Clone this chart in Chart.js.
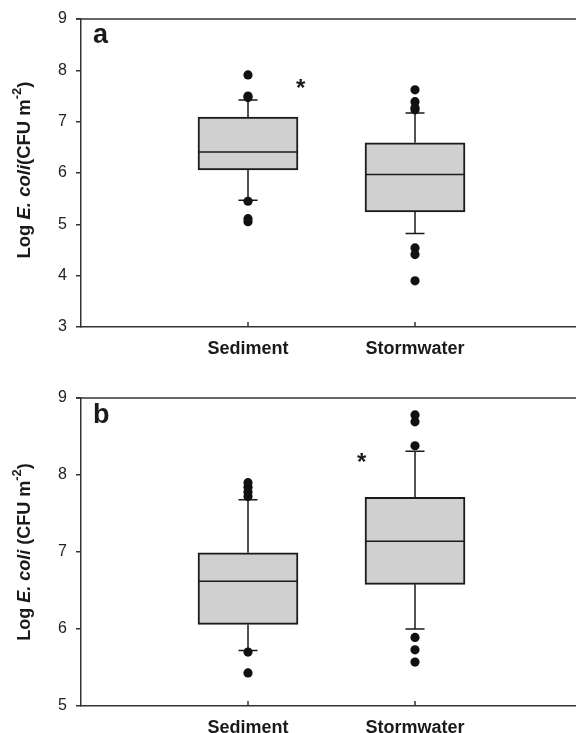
<!DOCTYPE html>
<html>
<head>
<meta charset="utf-8">
<script src="https://cdn.jsdelivr.net/npm/chart.js@4.4.1/dist/chart.umd.min.js"></script>
<style>
  body { margin: 0; background: #fff; }
  #wrap { position: relative; width: 576px; height: 733px; }
  canvas { position: absolute; left: 0; }
</style>
</head>
<body>
<div id="wrap">
  <canvas id="chartA" width="576" height="366" style="top:0"></canvas>
  <canvas id="chartB" width="576" height="367" style="top:366px"></canvas>
</div>
<script>
const categories = ['Sediment', 'Stormwater']

// panel a
const aQ1 = [6.06, 5.24]
const aMedian = [6.41, 5.97]
const aQ3 = [7.09, 6.59]
const aLow = [5.47, 4.82]
const aHigh = [7.42, 7.17]
const aOutliers = [
  [7.91, 7.50, 7.47, 5.45, 5.11, 5.05],
  [7.62, 7.39, 7.27, 7.23, 4.54, 4.41, 3.90]
]
const aTicks = [3, 4, 5, 6, 7, 8, 9]

// panel b
const bQ1 = [6.06, 6.58]
const bMedian = [6.62, 7.14]
const bQ3 = [6.99, 7.71]
const bLow = [5.72, 6.00]
const bHigh = [7.68, 8.31]
const bOutliers = [
  [7.90, 7.84, 7.78, 7.72, 5.70, 5.43],
  [8.78, 8.69, 8.38, 5.89, 5.73, 5.57]
]
const bTicks = [5, 6, 7, 8, 9]

const FONT = "'Liberation Sans', Arial, sans-serif"
const INK = '#1a1a1a'
const AXIS = '#333'

// whiskers, caps, medians, stars, panel letter, y title, inner x ticks
const boxParts = {
  id: 'boxParts',
  beforeDatasetsDraw(chart, args, opts) {
    const x = chart.scales.x, y = chart.scales.y, ctx = chart.ctx
    ctx.save()
    ctx.strokeStyle = INK
    ctx.lineWidth = 1.5
    categories.forEach((c, i) => {
      const px = x.getPixelForValue(i + 1)
      ctx.beginPath()
      ctx.moveTo(px, y.getPixelForValue(opts.q3[i]))
      ctx.lineTo(px, y.getPixelForValue(opts.high[i]))
      ctx.moveTo(px - 9.5, y.getPixelForValue(opts.high[i]))
      ctx.lineTo(px + 9.5, y.getPixelForValue(opts.high[i]))
      ctx.moveTo(px, y.getPixelForValue(opts.q1[i]))
      ctx.lineTo(px, y.getPixelForValue(opts.low[i]))
      ctx.moveTo(px - 9.5, y.getPixelForValue(opts.low[i]))
      ctx.lineTo(px + 9.5, y.getPixelForValue(opts.low[i]))
      ctx.stroke()
    })
    ctx.restore()
  },
  afterDatasetsDraw(chart, args, opts) {
    const x = chart.scales.x, y = chart.scales.y, ctx = chart.ctx
    const area = chart.chartArea
    ctx.save()
    ctx.strokeStyle = INK
    ctx.lineWidth = 1.5
    categories.forEach((c, i) => {
      const px = x.getPixelForValue(i + 1)
      const py = y.getPixelForValue(opts.median[i])
      ctx.beginPath()
      ctx.moveTo(px - 49, py)
      ctx.lineTo(px + 49, py)
      ctx.stroke()
      // little ticks inside the plot on x axis
      ctx.beginPath()
      ctx.strokeStyle = AXIS
      ctx.moveTo(px, area.bottom)
      ctx.lineTo(px, area.bottom - 5)
      ctx.stroke()
      ctx.strokeStyle = INK
    })
    // top frame line
    ctx.strokeStyle = AXIS
    ctx.lineWidth = 1.5
    ctx.beginPath()
    ctx.moveTo(area.left - 5, area.top)
    ctx.lineTo(area.right, area.top)
    ctx.stroke()

    // significance star
    ctx.fillStyle = INK
    ctx.font = 'bold 24px ' + FONT
    ctx.textAlign = 'center'
    ctx.textBaseline = 'middle'
    ctx.fillText('*', x.getPixelForValue(opts.star[0]), y.getPixelForValue(opts.star[1]) + 5)

    // panel letter
    ctx.font = 'bold 27px ' + FONT
    ctx.textAlign = 'left'
    ctx.textBaseline = 'alphabetic'
    ctx.fillText(opts.letter, area.left + 12, area.top + opts.letterDy)

    // y title with italic and superscript
    const fs = opts.titleSize
    const segs = [
      ['Log ', 'bold ' + fs + 'px ' + FONT, 0],
      ['E. coli', 'italic bold ' + fs + 'px ' + FONT, 0],
      [opts.gap + '(CFU m', 'bold ' + fs + 'px ' + FONT, 0],
      ['-2', 'bold ' + Math.round(fs * 0.7) + 'px ' + FONT, -fs * 0.4],
      [')', 'bold ' + fs + 'px ' + FONT, 0]
    ]
    let total = 0
    segs.forEach(s => { ctx.font = s[1]; total += ctx.measureText(s[0]).width })
    ctx.translate(25, (area.top + area.bottom) / 2 + opts.titleDy)
    ctx.rotate(-Math.PI / 2)
    ctx.textBaseline = 'middle'
    let cx = -total / 2
    segs.forEach(s => {
      ctx.font = s[1]
      ctx.fillText(s[0], cx, s[2])
      cx += ctx.measureText(s[0]).width
    })
    ctx.restore()
  }
}

function make_chart(id, q1, median, q3, low, high, outliers, ticks, o) {
  const ctx = document.getElementById(id).getContext('2d')
  const points = []
  outliers.forEach((list, i) => list.forEach(v => points.push({x: i + 1, y: v})))
  return new Chart(ctx, {
    type: 'bar',
    data: {
      datasets: [{
        type: 'bar',
        data: categories.map((c, i) => ({x: i + 1, y: [q1[i], q3[i]]})),
        backgroundColor: '#d0d0d0',
        borderColor: INK,
        borderWidth: 2,
        borderSkipped: false,
        barThickness: 100
      }, {
        type: 'scatter',
        data: points,
        pointRadius: 4.6,
        pointBackgroundColor: '#111',
        pointBorderWidth: 0,
        showLine: false
      }]
    },
    options: {
      responsive: false,
      animation: false,
      layout: { autoPadding: false, padding: { top: o.top, left: 0, right: 0, bottom: 0 } },
      plugins: {
        legend: { display: false },
        tooltip: { enabled: false },
        boxParts: {
          q1: q1, q3: q3, median: median, low: low, high: high,
          star: o.star, letter: o.letter, letterDy: o.letterDy, gap: o.gap,
          titleSize: o.titleSize, titleDy: o.titleDy
        }
      },
      scales: {
        x: {
          type: 'linear',
          offset: false,
          min: 0,
          max: 2.964,
          afterBuildTicks: s => { s.ticks = categories.map((c, i) => ({value: i + 1})) },
          afterFit: s => { s.height = o.xh },
          grid: { display: false, drawTicks: false, offset: false },
          border: { display: true, color: AXIS, width: 1.5 },
          ticks: {
            autoSkip: false,
            maxRotation: 0,
            padding: 11,
            color: INK,
            font: { family: FONT, size: 18, weight: 'bold' },
            callback: v => categories[v - 1]
          }
        },
        y: {
          min: ticks[0],
          max: ticks[ticks.length - 1],
          afterBuildTicks: s => { s.ticks = ticks.map(v => ({value: v})) },
          afterFit: s => { s.width = 81 },
          grid: { drawOnChartArea: false, drawTicks: true, tickLength: 5, color: AXIS, lineWidth: 1.5 },
          border: { display: true, color: AXIS, width: 1.5 },
          ticks: {
            padding: 9,
            color: '#222',
            font: { family: FONT, size: 16 }
          }
        }
      }
    },
    plugins: [boxParts]
  })
}

make_chart('chartA', aQ1, aMedian, aQ3, aLow, aHigh, aOutliers, aTicks,
  { top: 19, xh: 39, star: [1.315, 7.72], letter: 'a', letterDy: 24, gap: '',
    titleSize: 18.5, titleDy: -3 })
make_chart('chartB', bQ1, bMedian, bQ3, bLow, bHigh, bOutliers, bTicks,
  { top: 32, xh: 27, star: [1.68, 8.21], letter: 'b', letterDy: 25, gap: ' ',
    titleSize: 18, titleDy: 0 })
</script>
</body>
</html>
